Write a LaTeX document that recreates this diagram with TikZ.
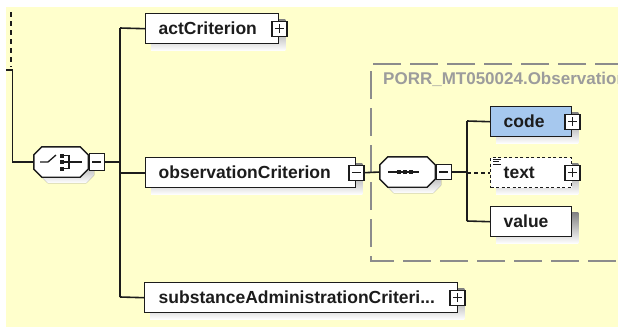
\documentclass[tikz,border=0pt]{standalone}
\usepackage{fontspec}
\setmainfont{Liberation Sans}
\definecolor{paper}{HTML}{FFFFCC}
\definecolor{shade}{HTML}{C4C4C4}
\definecolor{codefill}{HTML}{A6C8EE}
\definecolor{groupline}{HTML}{8C8C8C}
\definecolor{grouptext}{HTML}{9C9C9C}
\definecolor{ink}{HTML}{1C1C1C}
\pgfdeclarelayer{paperlayer}
\pgfdeclarelayer{shadowlayer}
\pgfsetlayers{paperlayer,shadowlayer,main}
\tikzset{
  elem/.style={rectangle,draw=ink,line width=1.4pt,fill=white,anchor=north west,
    minimum height=30pt,inner xsep=13pt,inner ysep=0pt,align=left,text=ink,
    font=\fontsize{17.5}{20}\selectfont\bfseries,text height=12.5pt,text depth=0pt},
  optelem/.style={elem,dash pattern=on 3pt off 2.5pt},
  compositor/.style={rectangle,draw=none,minimum width=54pt,minimum height=30pt,inner sep=0pt},
  octa/.style={draw=ink,line width=1.4pt,fill=white,line join=miter},
  toggle/.style={rectangle,draw=ink,line width=1.2pt,fill=white,minimum width=15pt,minimum height=15pt,inner sep=0pt},
  minusbox/.style={toggle,path picture={
    \draw[ink,line width=1.1pt] ([xshift=3pt]path picture bounding box.west) -- ([xshift=-3pt]path picture bounding box.east);}},
  plusbox/.style={toggle,path picture={
    \draw[ink,line width=1.1pt] ([xshift=3pt]path picture bounding box.west) -- ([xshift=-3pt]path picture bounding box.east);
    \draw[ink,line width=1.1pt] ([yshift=3pt]path picture bounding box.south) -- ([yshift=-3pt]path picture bounding box.north);}},
  wire/.style={ink,line width=1.6pt},
  optwire/.style={wire,dash pattern=on 4pt off 3pt},
  icon/.style={ink,line width=1.3pt},
}
\begin{document}
\begin{tikzpicture}[x=1pt,y=-1pt]
  \useasboundingbox (0,0) rectangle (618,327);
  \clip (0,0) rectangle (618,327);
  \begin{pgfonlayer}{paperlayer}
    \fill[paper] (6,7) rectangle (618,327);
  \end{pgfonlayer}

  % complex type group frame
  \draw[groupline,line width=1.5pt,dash pattern=on 28pt off 9pt] (660,64) -- (371,64) -- (371,261) -- (660,261);
  \node[anchor=base west,text=grouptext,font=\fontsize{17}{19}\selectfont\bfseries,inner sep=0pt]
    (grouplabel) at (383,84) {PORR\_MT050024.Observation};

  % compositor placeholders
  \node[compositor] (choice) at (61,162) {};
  \node[compositor,minimum width=55pt] (seq) at (407.5,172) {};

  % octagon outlines of the compositors, with their shadows
  \foreach \n in {choice,seq} {
    \begin{pgfonlayer}{shadowlayer}
      \fill[shade,transform canvas={xshift=6pt,yshift=-6pt}]
        ([shift={(8,0)}]\n.north west) -- ([shift={(-8,0)}]\n.north east) -- ([shift={(0,8)}]\n.north east)
        -- ([shift={(0,-8)}]\n.south east) -- ([shift={(-8,0)}]\n.south east) -- ([shift={(8,0)}]\n.south west)
        -- ([shift={(0,-8)}]\n.south west) -- ([shift={(0,8)}]\n.north west) -- cycle;
    \end{pgfonlayer}
    \filldraw[octa]
      ([shift={(8,0)}]\n.north west) -- ([shift={(-8,0)}]\n.north east) -- ([shift={(0,8)}]\n.north east)
      -- ([shift={(0,-8)}]\n.south east) -- ([shift={(-8,0)}]\n.south east) -- ([shift={(8,0)}]\n.south west)
      -- ([shift={(0,-8)}]\n.south west) -- ([shift={(0,8)}]\n.north west) -- cycle;
  }

  % choice symbol
  \draw[icon] (40,162) -- (48,162) -- (56,155);
  \fill[ink] (60,153.5) rectangle (64,157.5);
  \fill[ink] (60,160) rectangle (64,164);
  \fill[ink] (60,166.5) rectangle (64,170.5);
  \draw[icon] (64,155.5) -- (69,155.5) -- (69,168.5) -- (64,168.5);
  \draw[icon] (64,162) -- (82,162);
  \node[minusbox,minimum height=17pt,anchor=west] (choicetog) at ([xshift=0.5pt]choice.east) {};

  % sequence symbol
  \draw[icon] (388,172) -- (419,172);
  \fill[ink] (396.5,170) rectangle (400.5,174);
  \fill[ink] (402.5,170) rectangle (406.5,174);
  \fill[ink] (408.5,170) rectangle (412.5,174);
  \node[minusbox,anchor=west] (seqtog) at ([xshift=0.5pt]seq.east) {};

  % child elements of the choice
  \node[elem,minimum width=133pt,text width=107pt] (act) at (145,13) {actCriterion};
  \node[plusbox] (acttog) at (act.east) {};
  \node[elem,minimum width=210pt,text width=184pt] (obs) at (145,157) {observationCriterion};
  \node[minusbox] (obstog) at (obs.east) {};
  \node[elem,minimum width=313pt,text width=285pt,inner xsep=14pt] (sub) at (144,282) {substanceAdministrationCriteri...};
  \node[plusbox] (subtog) at ([xshift=-1pt]sub.east) {};

  % child elements of the sequence
  \node[elem,fill=codefill,minimum width=81pt,text width=55pt] (code) at (490,106) {code};
  \node[plusbox] (codetog) at (code.east) {};
  \node[optelem,minimum width=81pt,text width=55pt] (txt) at (490,157) {text};
  \node[plusbox] (txttog) at (txt.east) {};
  \draw[ink,line width=0.9pt] ([xshift=3pt,yshift=-2.5pt]txt.north west) -- ++(8,0)
    ([xshift=3pt,yshift=-4.8pt]txt.north west) -- ++(6,0)
    ([xshift=3pt,yshift=-7.1pt]txt.north west) -- ++(8,0);
  \node[elem,minimum width=81pt,text width=55pt] (val) at (490,206) {value};

  % element shadows
  \begin{pgfonlayer}{shadowlayer}
    \foreach \n in {act,obs,sub,code,txt,val}
      \fill[shade] ([shift={(6,6)}]\n.north west) rectangle ([shift={(6,6)}]\n.south east);
  \end{pgfonlayer}

  % connectors
  \coordinate (dotstart) at (11,12);
  \coordinate (dotend) at (11,67);
  \coordinate (tickl) at (6,70);
  \coordinate (tickr) at (12.5,70);
  \draw[ink,line width=1.8pt,dash pattern=on 4.5pt off 4.5pt] (dotstart) -- (dotend);
  \draw[wire] (tickl) -- (tickr) |- (choice.west);

  \coordinate (bustop) at (120,28);
  \coordinate (busbot) at (120,297);
  \draw[wire] (bustop) -- (busbot);
  \draw[wire] (choicetog.east) -- (choicetog.east -| bustop);
  \draw[wire] (bustop) -- (act.west);
  \draw[wire] (obs.west -| bustop) -- (obs.west);
  \draw[wire] (busbot) -- (sub.west);

  \draw[wire] (obstog.east) -- (seq.west);
  \coordinate (seqtop) at (467,121);
  \coordinate (seqbot) at (467,221);
  \draw[wire] (seqtop) -- (seqbot);
  \draw[wire] (seqtog.east) -- (seqtog.east -| seqtop);
  \draw[wire] (seqtop) -- (code.west);
  \draw[optwire] (txt.west -| seqtop) -- (txt.west);
  \draw[wire] (seqbot) -- (val.west);
\end{tikzpicture}
\end{document}
